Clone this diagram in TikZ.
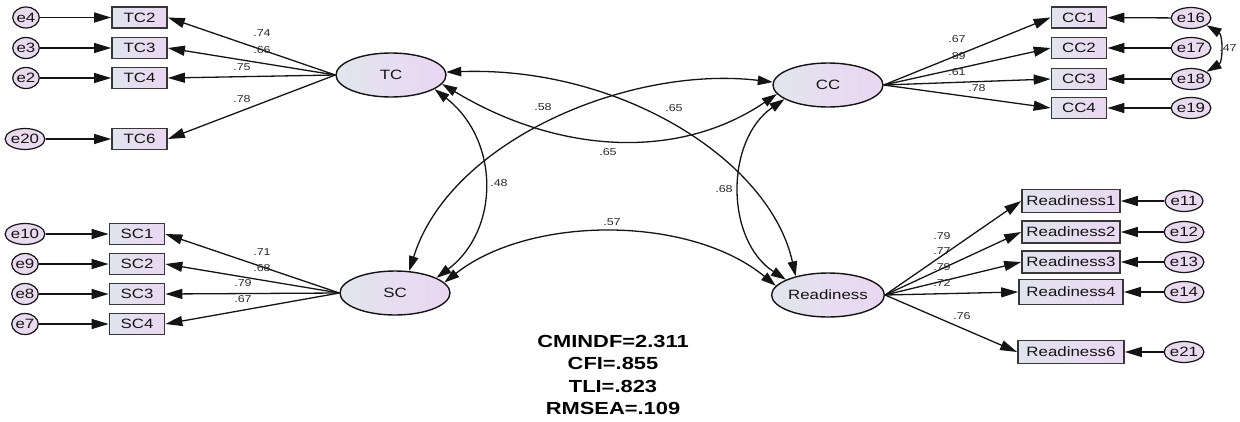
\documentclass[tikz,border=0pt]{standalone}
\usepackage{fontspec}
\setmainfont[FakeStretch=1.25]{Liberation Sans}
\usetikzlibrary{shapes.geometric,arrows.meta}
\definecolor{latL}{RGB}{226,229,238}
\definecolor{latR}{RGB}{234,214,242}
\definecolor{obsL}{RGB}{225,228,238}
\definecolor{obsR}{RGB}{234,215,241}
\definecolor{errC}{RGB}{234,218,240}
\definecolor{ink}{RGB}{20,20,20}
\newcommand{\fsz}[1]{\fontsize{#1}{#1}\selectfont}
\tikzset{
  lat/.style={ellipse, draw=ink, line width=1.4pt, minimum width=110pt, minimum height=44pt,
    inner sep=0pt, left color=latL, right color=latR, font=\fsz{13.5}, text=ink},
  obs/.style={rectangle, draw=ink!85, line width=1.7pt, minimum width=55pt, minimum height=21pt,
    inner sep=0pt, left color=obsL, right color=obsR, font=\fsz{13.5}, text=ink},
  err/.style={ellipse, draw=ink, line width=1.2pt, minimum width=26pt, minimum height=21pt,
    inner sep=0pt, fill=errC, font=\fsz{13.5}, text=ink},
  load/.style={draw=ink, line width=1.3pt, -{Triangle[length=17pt,width=10pt]}},
  cov/.style={draw=ink, line width=1.3pt,
    {Triangle[length=15pt,width=9.5pt]}-{Triangle[length=15pt,width=9.5pt]}},
  lbl/.style={font=\fsz{10}, text=ink!90, inner sep=0pt},
  fitstat/.style={font=\bfseries\fontsize{17.5}{22.3}\selectfont, align=center, text=black},
}
\begin{document}
\begin{tikzpicture}[x=1pt,y=-1pt]
\useasboundingbox (0,0) rectangle (1240,421);

% latent factors
\node[lat] (TC) at (391,75) {TC};
\node[lat] (CC) at (828,85) {CC};
\node[lat] (SC) at (395,293) {SC};
\node[lat] (RD) at (828,295) {Readiness};

% TC block
\node[obs] (TC2) at (139.5,17.5) {TC2};
\node[obs] (TC3) at (139.5,48) {TC3};
\node[obs] (TC4) at (139.5,78) {TC4};
\node[obs] (TC6) at (139.5,139) {TC6};
\node[err] (e4) at (26,17.5) {e4};
\node[err] (e3) at (26,48) {e3};
\node[err] (e2) at (26,78) {e2};
\node[err] (e20) at (25,139) {e20};
\foreach \e/\o in {e4/TC2,e3/TC3,e2/TC4,e20/TC6} \draw[load] (\e) -- (\o);
\foreach \o in {TC2,TC3,TC4,TC6} \draw[load] (TC.west) -- (\o.east);
\node[lbl] (lTC2) at (262,33) {.74};
\node[lbl] (lTC3) at (262,50) {.66};
\node[lbl] (lTC4) at (242,67) {.75};
\node[lbl] (lTC6) at (242,99) {.78};

% SC block
\node[obs] (SC1) at (137,234) {SC1};
\node[obs] (SC2) at (137,264) {SC2};
\node[obs] (SC3) at (137,294) {SC3};
\node[obs] (SC4) at (137,324) {SC4};
\node[err] (e10) at (25,234) {e10};
\node[err] (e9) at (25,264) {e9};
\node[err] (e8) at (25,294) {e8};
\node[err] (e7) at (25,324) {e7};
\foreach \e/\o in {e10/SC1,e9/SC2,e8/SC3,e7/SC4} \draw[load] (\e) -- (\o);
\foreach \o in {SC1,SC2,SC3,SC4} \draw[load] (SC.west) -- (\o.east);
\node[lbl] (lSC1) at (262,252) {.71};
\node[lbl] (lSC2) at (262,268) {.68};
\node[lbl] (lSC3) at (243,283) {.79};
\node[lbl] (lSC4) at (243,299) {.67};

% CC block
\node[obs] (CC1) at (1079,17.5) {CC1};
\node[obs] (CC2) at (1079,48) {CC2};
\node[obs] (CC3) at (1079,79) {CC3};
\node[obs] (CC4) at (1079,108) {CC4};
\node[err] (e16) at (1191,18) {e16};
\node[err] (e17) at (1191,48) {e17};
\node[err] (e18) at (1191,79) {e18};
\node[err] (e19) at (1191,108) {e19};
\foreach \e/\o in {e16/CC1,e17/CC2,e18/CC3,e19/CC4} \draw[load] (\e) -- (\o);
\foreach \o in {CC1,CC2,CC3,CC4} \draw[load] (CC.east) -- (\o.west);
\node[lbl] (lCC1) at (957,39) {.67};
\node[lbl] (lCC2) at (957,56) {.89};
\node[lbl] (lCC3) at (957,72) {.61};
\node[lbl] (lCC4) at (977,88) {.78};
\draw[cov] (e16.-25) .. controls (1223,35) and (1223,62) .. (e18.25);
\node[lbl] (l47) at (1228,48) {.47};

% Readiness block
\node[obs, minimum width=98pt, minimum height=23pt] (R1) at (1071,201) {Readiness1};
\node[obs, minimum width=98pt, minimum height=22pt] (R2) at (1071,232) {Readiness2};
\node[obs, minimum width=98pt, minimum height=22pt] (R3) at (1071,262) {Readiness3};
\node[obs, minimum width=104pt, minimum height=25pt] (R4) at (1071,292) {Readiness4};
\node[obs, minimum width=106pt, minimum height=23pt] (R6) at (1071,352) {Readiness6};
\node[err] (e11) at (1184,201) {e11};
\node[err] (e12) at (1184,232) {e12};
\node[err] (e13) at (1184,262) {e13};
\node[err] (e14) at (1184,292) {e14};
\node[err] (e21) at (1184,352) {e21};
\foreach \e/\o in {e11/R1,e12/R2,e13/R3,e14/R4,e21/R6} \draw[load] (\e) -- (\o);
\foreach \o in {R1,R2,R3,R4,R6} \draw[load] (RD.east) -- (\o.west);
\node[lbl] (lR1) at (942,236) {.79};
\node[lbl] (lR2) at (942,251) {.77};
\node[lbl] (lR3) at (942,267) {.79};
\node[lbl] (lR4) at (942,283) {.72};
\node[lbl] (lR6) at (962,316) {.76};

% correlations between factors
\draw[cov] (TC.-10) .. controls (560,155) and (680,160) .. (CC.190);
\draw[cov] (TC.3) .. controls (620,66) and (770,160) .. (RD.150);
\draw[cov] (TC.-18) .. controls (500,140) and (500,230) .. (SC.20);
\draw[cov] (CC.177) .. controls (630,65) and (450,140) .. (SC.57);
\draw[cov] (CC.198) .. controls (725,140) and (725,240) .. (RD.160);
\draw[cov] (SC.12) .. controls (530,215) and (690,215) .. (RD.170);
\node[lbl] (lTCCC) at (608,152) {.65};
\node[lbl] (lTCRD) at (674,108) {.65};
\node[lbl] (lTCSC) at (499,183) {.48};
\node[lbl] (lCCSC) at (543,107) {.58};
\node[lbl] (lCCRD) at (724,189) {.68};
\node[lbl] (lSCRD) at (612,222) {.57};

% fit indices
\node[fitstat] (fit) at (613,375) {CMINDF=2.311\\CFI=.855\\TLI=.823\\RMSEA=.109};
\end{tikzpicture}
\end{document}
